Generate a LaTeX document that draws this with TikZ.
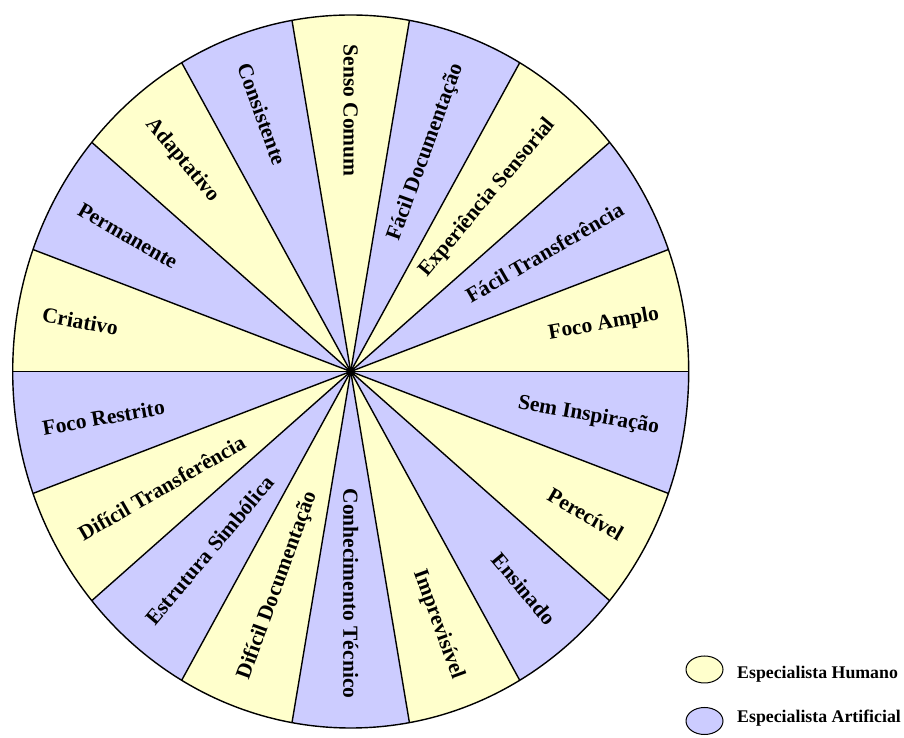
\documentclass[tikz,border=0pt]{standalone}
\usepackage{fontspec}
\setmainfont{Liberation Serif}
\usetikzlibrary{calc}
\definecolor{humano}{RGB}{255,255,204}
\definecolor{artificial}{RGB}{204,204,255}
\begin{document}
\begin{tikzpicture}[x=1pt,y=1pt,
  wedgeline/.style={black, line width=1.4pt},
  lbl/.style={font=\fontsize{21.5}{25}\selectfont\bfseries, inner sep=0pt},
  keytext/.style={font=\fontsize{17.8}{20}\selectfont\bfseries, inner sep=0pt, anchor=base west},
  keydisc/.style={draw=black, line width=1pt}]
\useasboundingbox (0,0) rectangle (904,738);
\coordinate (c) at (350.7,366.5);

% eighteen alternating wedges
\foreach \i in {0,...,17} {
  \pgfmathsetmacro\a{20*\i}
  \pgfmathtruncatemacro\odd{mod(\i,2)}
  \ifnum\odd=0 \def\col{humano}\else\def\col{artificial}\fi
  \fill[\col] (c) -- ++(\a:338pt and 356.5pt)
    arc[start angle=\a, end angle=\a+20, x radius=338pt, y radius=356.5pt] -- cycle;
}
% spokes and rim
\foreach \i in {0,...,17}
  \draw[wedgeline] (c) -- ++(20*\i:338pt and 356.5pt);
\draw[wedgeline] (c) ellipse[x radius=338pt, y radius=356.5pt];
\fill[black] (c) circle[radius=4.5];

% labels reading outward
\foreach \a/\t in {10/Foco Amplo, 30/Fácil Transferência, 50/Experiência Sensorial,
                   70/Fácil Documentação, 270/Conhecimento Técnico, 290/Imprevisível,
                   310/Ensinado, 330/Perecível, 350/Sem Inspiração}
  \node[lbl, rotate=\a, anchor=east] (w\a) at ($(c)+(\a:313pt and 327pt)$) {\t};
% labels reading inward
\foreach \a/\t in {90/Senso Comum, 110/Consistente, 130/Adaptativo, 150/Permanente,
                   170/Criativo, 190/Foco Restrito, 210/Difícil Transferência,
                   230/Estrutura Simbólica, 250/Difícil Documentação}
  \node[lbl, rotate=\a-180, anchor=west] (w\a) at ($(c)+(\a:313pt and 327pt)$) {\t};

% key
\draw[keydisc, fill=humano] (704.5,68.5) ellipse[x radius=18.5, y radius=13.5];
\draw[keydisc, fill=artificial] (704.5,17) ellipse[x radius=18.5, y radius=13.5];
\node[keytext] (kh) at (737,59) {Especialista Humano};
\node[keytext] (ka) at (737,15) {Especialista Artificial};
\end{tikzpicture}
\end{document}
